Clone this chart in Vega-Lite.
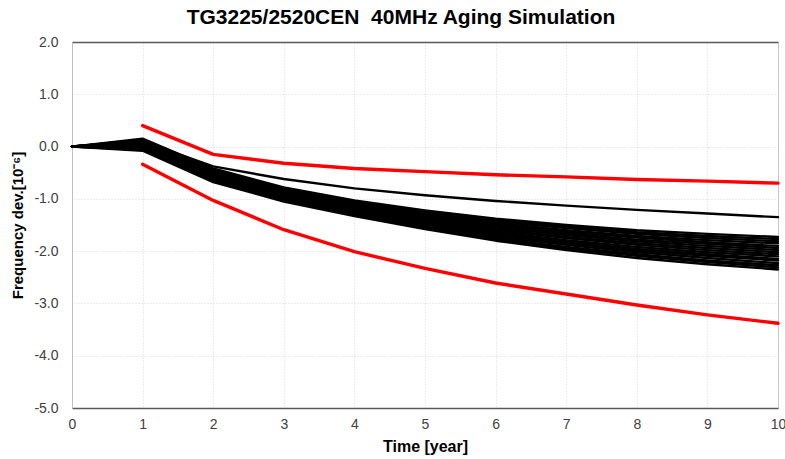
{
  "$schema": "https://vega.github.io/schema/vega-lite/v6.json",
  "width": 706,
  "height": 366,
  "autosize": "none",
  "padding": {"left": 72, "top": 42, "right": 7, "bottom": 51},
  "config": {
    "view": {"stroke": "#bfbfbf", "strokeWidth": 1},
    "font": "Liberation Sans",
    "axis": {"labelFont": "Liberation Sans", "titleFont": "Liberation Sans", "labelColor": "#404040", "titleColor": "#000000", "labelFontSize": 14, "titleFontSize": 16, "titleFontWeight": "bold"}
  },
  "title": {"text": "TG3225/2520CEN\u00a0 40MHz Aging Simulation", "font": "Liberation Sans", "fontSize": 21, "fontWeight": "bold", "color": "#000000", "anchor": "middle", "dx": -24, "offset": 7},
  "data": {"values": [
    {"s":1,"k":"sim","t":0,"v":0},{"s":1,"k":"sim","t":1,"v":0.15},{"s":1,"k":"sim","t":2,"v":-0.42},{"s":1,"k":"sim","t":3,"v":-0.78},{"s":1,"k":"sim","t":4,"v":-1.03},{"s":1,"k":"sim","t":5,"v":-1.22},{"s":1,"k":"sim","t":6,"v":-1.38},{"s":1,"k":"sim","t":7,"v":-1.5},{"s":1,"k":"sim","t":8,"v":-1.6},{"s":1,"k":"sim","t":9,"v":-1.67},{"s":1,"k":"sim","t":10,"v":-1.73},
    {"s":2,"k":"sim","t":0,"v":0},{"s":2,"k":"sim","t":1,"v":0.13},{"s":2,"k":"sim","t":2,"v":-0.44},{"s":2,"k":"sim","t":3,"v":-0.8},{"s":2,"k":"sim","t":4,"v":-1.05},{"s":2,"k":"sim","t":5,"v":-1.25},{"s":2,"k":"sim","t":6,"v":-1.41},{"s":2,"k":"sim","t":7,"v":-1.53},{"s":2,"k":"sim","t":8,"v":-1.64},{"s":2,"k":"sim","t":9,"v":-1.71},{"s":2,"k":"sim","t":10,"v":-1.77},
    {"s":3,"k":"sim","t":0,"v":0},{"s":3,"k":"sim","t":1,"v":0.12},{"s":3,"k":"sim","t":2,"v":-0.45},{"s":3,"k":"sim","t":3,"v":-0.82},{"s":3,"k":"sim","t":4,"v":-1.07},{"s":3,"k":"sim","t":5,"v":-1.27},{"s":3,"k":"sim","t":6,"v":-1.43},{"s":3,"k":"sim","t":7,"v":-1.56},{"s":3,"k":"sim","t":8,"v":-1.67},{"s":3,"k":"sim","t":9,"v":-1.75},{"s":3,"k":"sim","t":10,"v":-1.81},
    {"s":4,"k":"sim","t":0,"v":0},{"s":4,"k":"sim","t":1,"v":0.1},{"s":4,"k":"sim","t":2,"v":-0.47},{"s":4,"k":"sim","t":3,"v":-0.83},{"s":4,"k":"sim","t":4,"v":-1.09},{"s":4,"k":"sim","t":5,"v":-1.29},{"s":4,"k":"sim","t":6,"v":-1.46},{"s":4,"k":"sim","t":7,"v":-1.6},{"s":4,"k":"sim","t":8,"v":-1.71},{"s":4,"k":"sim","t":9,"v":-1.79},{"s":4,"k":"sim","t":10,"v":-1.85},
    {"s":5,"k":"sim","t":0,"v":0},{"s":5,"k":"sim","t":1,"v":0.09},{"s":5,"k":"sim","t":2,"v":-0.49},{"s":5,"k":"sim","t":3,"v":-0.85},{"s":5,"k":"sim","t":4,"v":-1.11},{"s":5,"k":"sim","t":5,"v":-1.32},{"s":5,"k":"sim","t":6,"v":-1.49},{"s":5,"k":"sim","t":7,"v":-1.63},{"s":5,"k":"sim","t":8,"v":-1.74},{"s":5,"k":"sim","t":9,"v":-1.83},{"s":5,"k":"sim","t":10,"v":-1.9},
    {"s":6,"k":"sim","t":0,"v":0},{"s":6,"k":"sim","t":1,"v":0.07},{"s":6,"k":"sim","t":2,"v":-0.51},{"s":6,"k":"sim","t":3,"v":-0.87},{"s":6,"k":"sim","t":4,"v":-1.13},{"s":6,"k":"sim","t":5,"v":-1.34},{"s":6,"k":"sim","t":6,"v":-1.52},{"s":6,"k":"sim","t":7,"v":-1.66},{"s":6,"k":"sim","t":8,"v":-1.78},{"s":6,"k":"sim","t":9,"v":-1.86},{"s":6,"k":"sim","t":10,"v":-1.94},
    {"s":7,"k":"sim","t":0,"v":0},{"s":7,"k":"sim","t":1,"v":0.06},{"s":7,"k":"sim","t":2,"v":-0.52},{"s":7,"k":"sim","t":3,"v":-0.89},{"s":7,"k":"sim","t":4,"v":-1.15},{"s":7,"k":"sim","t":5,"v":-1.36},{"s":7,"k":"sim","t":6,"v":-1.55},{"s":7,"k":"sim","t":7,"v":-1.69},{"s":7,"k":"sim","t":8,"v":-1.81},{"s":7,"k":"sim","t":9,"v":-1.9},{"s":7,"k":"sim","t":10,"v":-1.98},
    {"s":8,"k":"sim","t":0,"v":0},{"s":8,"k":"sim","t":1,"v":0.04},{"s":8,"k":"sim","t":2,"v":-0.54},{"s":8,"k":"sim","t":3,"v":-0.91},{"s":8,"k":"sim","t":4,"v":-1.17},{"s":8,"k":"sim","t":5,"v":-1.39},{"s":8,"k":"sim","t":6,"v":-1.58},{"s":8,"k":"sim","t":7,"v":-1.73},{"s":8,"k":"sim","t":8,"v":-1.85},{"s":8,"k":"sim","t":9,"v":-1.94},{"s":8,"k":"sim","t":10,"v":-2.02},
    {"s":9,"k":"sim","t":0,"v":0},{"s":9,"k":"sim","t":1,"v":0.03},{"s":9,"k":"sim","t":2,"v":-0.56},{"s":9,"k":"sim","t":3,"v":-0.92},{"s":9,"k":"sim","t":4,"v":-1.19},{"s":9,"k":"sim","t":5,"v":-1.41},{"s":9,"k":"sim","t":6,"v":-1.6},{"s":9,"k":"sim","t":7,"v":-1.75},{"s":9,"k":"sim","t":8,"v":-1.88},{"s":9,"k":"sim","t":9,"v":-1.98},{"s":9,"k":"sim","t":10,"v":-2.06},
    {"s":10,"k":"sim","t":0,"v":0},{"s":10,"k":"sim","t":1,"v":0.01},{"s":10,"k":"sim","t":2,"v":-0.58},{"s":10,"k":"sim","t":3,"v":-0.94},{"s":10,"k":"sim","t":4,"v":-1.21},{"s":10,"k":"sim","t":5,"v":-1.44},{"s":10,"k":"sim","t":6,"v":-1.63},{"s":10,"k":"sim","t":7,"v":-1.79},{"s":10,"k":"sim","t":8,"v":-1.92},{"s":10,"k":"sim","t":9,"v":-2.02},{"s":10,"k":"sim","t":10,"v":-2.1},
    {"s":11,"k":"sim","t":0,"v":0},{"s":11,"k":"sim","t":1,"v":0.0},{"s":11,"k":"sim","t":2,"v":-0.59},{"s":11,"k":"sim","t":3,"v":-0.96},{"s":11,"k":"sim","t":4,"v":-1.23},{"s":11,"k":"sim","t":5,"v":-1.46},{"s":11,"k":"sim","t":6,"v":-1.66},{"s":11,"k":"sim","t":7,"v":-1.82},{"s":11,"k":"sim","t":8,"v":-1.96},{"s":11,"k":"sim","t":9,"v":-2.06},{"s":11,"k":"sim","t":10,"v":-2.15},
    {"s":12,"k":"sim","t":0,"v":0},{"s":12,"k":"sim","t":1,"v":-0.02},{"s":12,"k":"sim","t":2,"v":-0.61},{"s":12,"k":"sim","t":3,"v":-0.98},{"s":12,"k":"sim","t":4,"v":-1.25},{"s":12,"k":"sim","t":5,"v":-1.48},{"s":12,"k":"sim","t":6,"v":-1.69},{"s":12,"k":"sim","t":7,"v":-1.85},{"s":12,"k":"sim","t":8,"v":-1.99},{"s":12,"k":"sim","t":9,"v":-2.09},{"s":12,"k":"sim","t":10,"v":-2.18},
    {"s":13,"k":"sim","t":0,"v":0},{"s":13,"k":"sim","t":1,"v":-0.03},{"s":13,"k":"sim","t":2,"v":-0.63},{"s":13,"k":"sim","t":3,"v":-1.0},{"s":13,"k":"sim","t":4,"v":-1.27},{"s":13,"k":"sim","t":5,"v":-1.51},{"s":13,"k":"sim","t":6,"v":-1.72},{"s":13,"k":"sim","t":7,"v":-1.88},{"s":13,"k":"sim","t":8,"v":-2.02},{"s":13,"k":"sim","t":9,"v":-2.13},{"s":13,"k":"sim","t":10,"v":-2.23},
    {"s":14,"k":"sim","t":0,"v":0},{"s":14,"k":"sim","t":1,"v":-0.05},{"s":14,"k":"sim","t":2,"v":-0.65},{"s":14,"k":"sim","t":3,"v":-1.02},{"s":14,"k":"sim","t":4,"v":-1.29},{"s":14,"k":"sim","t":5,"v":-1.53},{"s":14,"k":"sim","t":6,"v":-1.75},{"s":14,"k":"sim","t":7,"v":-1.92},{"s":14,"k":"sim","t":8,"v":-2.06},{"s":14,"k":"sim","t":9,"v":-2.18},{"s":14,"k":"sim","t":10,"v":-2.27},
    {"s":15,"k":"sim","t":0,"v":0},{"s":15,"k":"sim","t":1,"v":-0.06},{"s":15,"k":"sim","t":2,"v":-0.66},{"s":15,"k":"sim","t":3,"v":-1.03},{"s":15,"k":"sim","t":4,"v":-1.31},{"s":15,"k":"sim","t":5,"v":-1.56},{"s":15,"k":"sim","t":6,"v":-1.77},{"s":15,"k":"sim","t":7,"v":-1.95},{"s":15,"k":"sim","t":8,"v":-2.09},{"s":15,"k":"sim","t":9,"v":-2.21},{"s":15,"k":"sim","t":10,"v":-2.31},
    {"s":16,"k":"sim","t":0,"v":0},{"s":16,"k":"sim","t":1,"v":-0.08},{"s":16,"k":"sim","t":2,"v":-0.68},{"s":16,"k":"sim","t":3,"v":-1.05},{"s":16,"k":"sim","t":4,"v":-1.33},{"s":16,"k":"sim","t":5,"v":-1.58},{"s":16,"k":"sim","t":6,"v":-1.8},{"s":16,"k":"sim","t":7,"v":-1.98},{"s":16,"k":"sim","t":8,"v":-2.13},{"s":16,"k":"sim","t":9,"v":-2.25},{"s":16,"k":"sim","t":10,"v":-2.35},
    {"s":17,"k":"sim","t":0,"v":0},{"s":17,"k":"sim","t":1,"v":0.1},{"s":17,"k":"sim","t":2,"v":-0.38},{"s":17,"k":"sim","t":3,"v":-0.62},{"s":17,"k":"sim","t":4,"v":-0.8},{"s":17,"k":"sim","t":5,"v":-0.93},{"s":17,"k":"sim","t":6,"v":-1.04},{"s":17,"k":"sim","t":7,"v":-1.13},{"s":17,"k":"sim","t":8,"v":-1.21},{"s":17,"k":"sim","t":9,"v":-1.28},{"s":17,"k":"sim","t":10,"v":-1.35},
    {"s":18,"k":"lim","t":1,"v":0.4},{"s":18,"k":"lim","t":2,"v":-0.15},{"s":18,"k":"lim","t":3,"v":-0.32},{"s":18,"k":"lim","t":4,"v":-0.42},{"s":18,"k":"lim","t":5,"v":-0.48},{"s":18,"k":"lim","t":6,"v":-0.54},{"s":18,"k":"lim","t":7,"v":-0.58},{"s":18,"k":"lim","t":8,"v":-0.63},{"s":18,"k":"lim","t":9,"v":-0.66},{"s":18,"k":"lim","t":10,"v":-0.7},
    {"s":19,"k":"lim","t":1,"v":-0.34},{"s":19,"k":"lim","t":2,"v":-1.03},{"s":19,"k":"lim","t":3,"v":-1.59},{"s":19,"k":"lim","t":4,"v":-2.01},{"s":19,"k":"lim","t":5,"v":-2.33},{"s":19,"k":"lim","t":6,"v":-2.61},{"s":19,"k":"lim","t":7,"v":-2.82},{"s":19,"k":"lim","t":8,"v":-3.03},{"s":19,"k":"lim","t":9,"v":-3.22},{"s":19,"k":"lim","t":10,"v":-3.38}
  ]},
  "resolve": {"axis": {"x": "independent"}},
  "layer": [
    {
      "mark": {"type": "line", "strokeCap": "round", "strokeJoin": "round"},
      "encoding": {
        "x": {"field": "t", "type": "quantitative", "scale": {"domain": [0, 10], "nice": false, "zero": false},
          "axis": {"orient": "bottom", "title": "Time [year]", "values": [0,1,2,3,4,5,6,7,8,9,10], "format": "d", "labelFlush": false, "labelOverlap": false, "domain": true, "domainColor": "#595959", "domainWidth": 1.5, "ticks": false, "labelPadding": 9, "titlePadding": 7, "grid": true, "gridColor": "#d9d9d9", "gridDash": [1, 2], "gridWidth": 1}},
        "y": {"field": "v", "type": "quantitative", "scale": {"domain": [-5, 2], "nice": false, "zero": false},
          "axis": {"title": "Frequency dev.[10⁻⁶]", "titleFontSize": 15, "values": [-5,-4,-3,-2,-1,0,1,2], "format": ".1f", "labelExpr": "replace(datum.label, '\u2212', '-')", "labelFlush": false, "labelOverlap": false, "domain": true, "domainColor": "#bfbfbf", "ticks": false, "labelPadding": 14, "titlePadding": 8, "grid": true, "gridColor": "#d9d9d9", "gridDash": [1, 2], "gridWidth": 1}},
        "detail": {"field": "s", "type": "nominal"},
        "color": {"field": "k", "type": "nominal", "scale": {"domain": ["sim", "lim"], "range": ["#000000", "#ff0000"]}, "legend": null},
        "strokeWidth": {"field": "k", "type": "nominal", "scale": {"domain": ["sim", "lim"], "range": [2.4, 3.4]}, "legend": null},
        "order": {"field": "t", "type": "quantitative"}
      }
    },
    {
      "mark": {"type": "line", "opacity": 0},
      "encoding": {
        "x": {"field": "t", "type": "quantitative", "axis": {"orient": "top", "title": null, "labels": false, "ticks": false, "grid": false, "domainColor": "#595959", "domainWidth": 1.5}},
        "y": {"field": "v", "type": "quantitative"},
        "detail": {"field": "s", "type": "nominal"}
      }
    }
  ]
}
